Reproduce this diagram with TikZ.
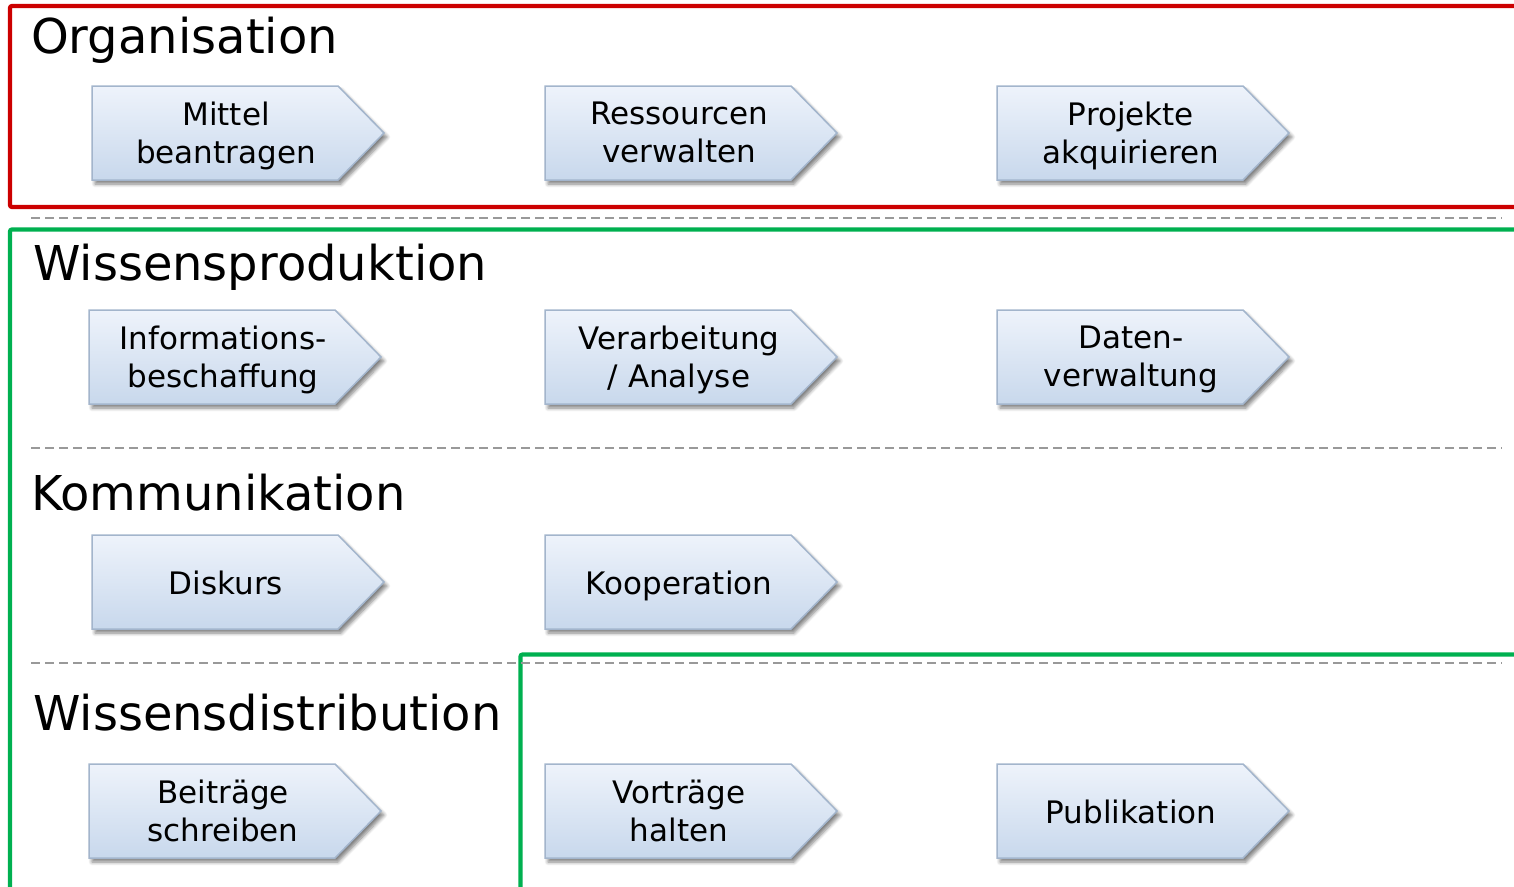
\documentclass[tikz,border=0pt]{standalone}
\usepackage{fontspec}
\setmainfont{DejaVu Sans}
\usetikzlibrary{shadows.blur}
\definecolor{orgred}{HTML}{CC0000}
\definecolor{wgreen}{HTML}{00B050}
\definecolor{chevtop}{HTML}{EEF3FB}
\definecolor{chevbot}{HTML}{C8D8EC}
\definecolor{chevline}{HTML}{A3B5CC}
\definecolor{sepgray}{HTML}{999999}
\tikzset{
  chevbox/.style={draw=chevline, line width=1.5pt, top color=chevtop, bottom color=chevbot,
    blur shadow={shadow xshift=3pt, shadow yshift=-4pt, shadow blur steps=6, shadow opacity=50, shadow blur radius=3.5pt}},
  chevtext/.style={align=center, font=\fontsize{31}{38}\selectfont, inner sep=0pt,
    execute at begin node=\strut, execute at end node=\strut},
  title/.style={anchor=base west, font=\fontsize{48}{56}\selectfont, inner sep=0pt},
  sep/.style={draw=sepgray, line width=2pt, dash pattern=on 9pt off 5pt},
  redframe/.style={draw=orgred, line width=4.2pt, rounded corners=2pt},
  greenframe/.style={draw=wgreen, line width=4.2pt, rounded corners=2pt},
}
\newcommand{\chev}[4]{%
  \path[chevbox] (#2,-#3) -- ++(246,0) -- ++(46,-47) -- ++(-46,-47) -- ++(-246,0) -- cycle;
  \node[chevtext] (#1) at (#2+134,-#3-52) {#4};
}
\begin{document}
\begin{tikzpicture}[x=1pt,y=1pt]
\useasboundingbox (0,0) rectangle (1514,-886);
\clip (0,0) rectangle (1514,-886);
% frames
\draw[redframe] (1530,-6) -- (10,-6) -- (10,-207) -- (1530,-207);
\draw[greenframe] (1530,-229.5) -- (10,-229.5) -- (10,-900);
\draw[greenframe] (520.5,-900) -- (520.5,-654.5) -- (1530,-654.5);
% separators
\coordinate (s1a) at (31,-218); \coordinate (s1b) at (1502,-218);
\coordinate (s2a) at (31,-448); \coordinate (s2b) at (1502,-448);
\coordinate (s3a) at (31,-663); \coordinate (s3b) at (1502,-663);
\draw[sep] (s1a) -- (s1b);
\draw[sep] (s2a) -- (s2b);
\draw[sep] (s3a) -- (s3b);
% titles
\node[title] (t1) at (31,-53) {Organisation};
\node[title] (t2) at (33,-280) {Wissensproduktion};
\node[title] (t3) at (31,-510) {Kommunikation};
\node[title] (t4) at (33,-730) {Wissensdistribution};
% row 1
\chev{c11}{92}{86}{Mittel\\beantragen}
\chev{c12}{545}{86}{Ressourcen\\verwalten}
\chev{c13}{997}{86}{Projekte\\akquirieren}
% row 2
\chev{c21}{89}{310}{Informations-\\beschaffung}
\chev{c22}{545}{310}{Verarbeitung\\/ Analyse}
\chev{c23}{997}{310}{Daten-\\verwaltung}
% row 3
\chev{c31}{92}{535}{Diskurs}
\chev{c32}{545}{535}{Kooperation}
% row 4
\chev{c41}{89}{764}{Beiträge\\schreiben}
\chev{c42}{545}{764}{Vorträge\\halten}
\chev{c43}{997}{764}{Publikation}
\end{tikzpicture}
\end{document}
